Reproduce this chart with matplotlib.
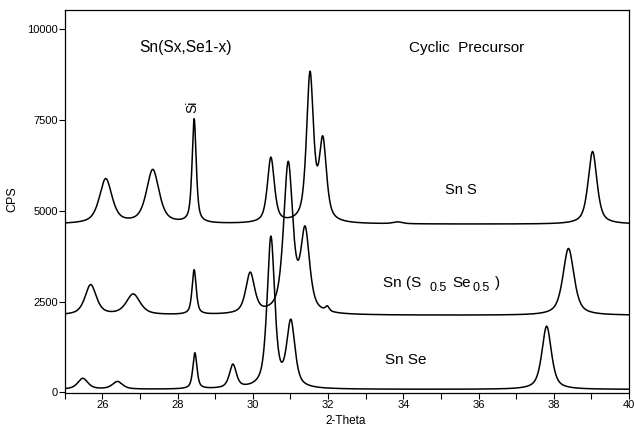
import numpy as np
import matplotlib.pyplot as plt

plt.rcParams['font.family'] = ['Liberation Sans', 'DejaVu Sans']

# peak lists: position (2-theta), height above baseline (CPS), FWHM (deg)
sns_baseline = 4630
sns_pos = [26.09, 27.34, 28.44, 30.48, 31.52, 31.86, 33.85, 39.03]
sns_height = [1230, 1480, 2860, 1800, 4050, 2170, 50, 2000]
sns_fwhm = [0.40, 0.40, 0.13, 0.22, 0.22, 0.23, 0.3, 0.28]

snsse_baseline = 2120
snsse_pos = [25.69, 26.82, 28.44, 29.93, 30.94, 31.39, 31.98, 38.39]
snsse_height = [830, 570, 1230, 1120, 4100, 2200, 130, 1840]
snsse_fwhm = [0.36, 0.44, 0.13, 0.28, 0.29, 0.28, 0.12, 0.35]

snse_baseline = 80
snse_pos = [25.48, 26.40, 28.46, 29.47, 30.48, 31.01, 37.81]
snse_height = [300, 210, 990, 650, 4150, 1800, 1740]
snse_fwhm = [0.32, 0.32, 0.13, 0.22, 0.24, 0.26, 0.30]

two_theta = np.linspace(25, 40, 3001)


def pattern(pos, height, fwhm, baseline, eta=0.65):
    y = np.full_like(two_theta, float(baseline))
    for p, h, w in zip(pos, height, fwhm):
        d = (two_theta - p) / (w / 2)
        lor = 1 / (1 + d ** 2)
        gau = np.exp(-np.log(2) * d ** 2)
        y += h * (eta * lor + (1 - eta) * gau)
    return y


def main():
    fig = plt.figure(figsize=(6.34, 4.26), dpi=100)
    ax = fig.add_axes([0.1021, 0.0782, 0.8901, 0.8984])

    for pos, h, w, b in [(sns_pos, sns_height, sns_fwhm, sns_baseline),
                         (snsse_pos, snsse_height, snsse_fwhm, snsse_baseline),
                         (snse_pos, snse_height, snse_fwhm, snse_baseline)]:
        ax.plot(two_theta, pattern(pos, h, w, b), color='black', lw=1.1)

    ax.set_xlim(25, 40)
    ax.set_ylim(-10, 10530)
    ax.set_xticks(range(26, 41, 2))
    ax.set_xticks(range(25, 41), minor=True)
    ax.set_yticks([0, 2500, 5000, 7500, 10000])
    ax.tick_params(which='both', direction='out', length=4, width=0.8,
                   labelsize=8, pad=1)
    for s in ax.spines.values():
        s.set_linewidth(0.9)

    ax.set_xlabel('2-Theta', fontsize=8.5)
    ax.xaxis.set_label_coords(0.497, -0.058)
    ax.set_ylabel('CPS', fontsize=9)
    ax.yaxis.set_label_coords(-0.083, 0.505)

    ax.text(26.98, 9505, 'Sn(Sx,Se1-x)', fontsize=11.2, va='center')
    ax.text(34.14, 9485, 'Cyclic  Precursor', fontsize=11, va='center')
    ax.text(28.39, 7870, 'Si', fontsize=10, rotation=90, ha='center', va='center')
    ax.text(35.12, 5570, 'Sn S', fontsize=10.5, va='center')
    ax.text(33.46, 2893, 'Sn (S', fontsize=11, va='baseline')
    ax.text(34.69, 2790, '0.5', fontsize=9, va='baseline')
    ax.text(35.30, 2893, 'Se', fontsize=11, va='baseline')
    ax.text(35.83, 2790, '0.5', fontsize=9, va='baseline')
    ax.text(36.44, 2893, ')', fontsize=11, va='baseline')
    ax.text(33.51, 890, 'Sn Se', fontsize=11, va='center')

    plt.savefig('out.png', dpi=100)


if __name__ == '__main__':
    main()
